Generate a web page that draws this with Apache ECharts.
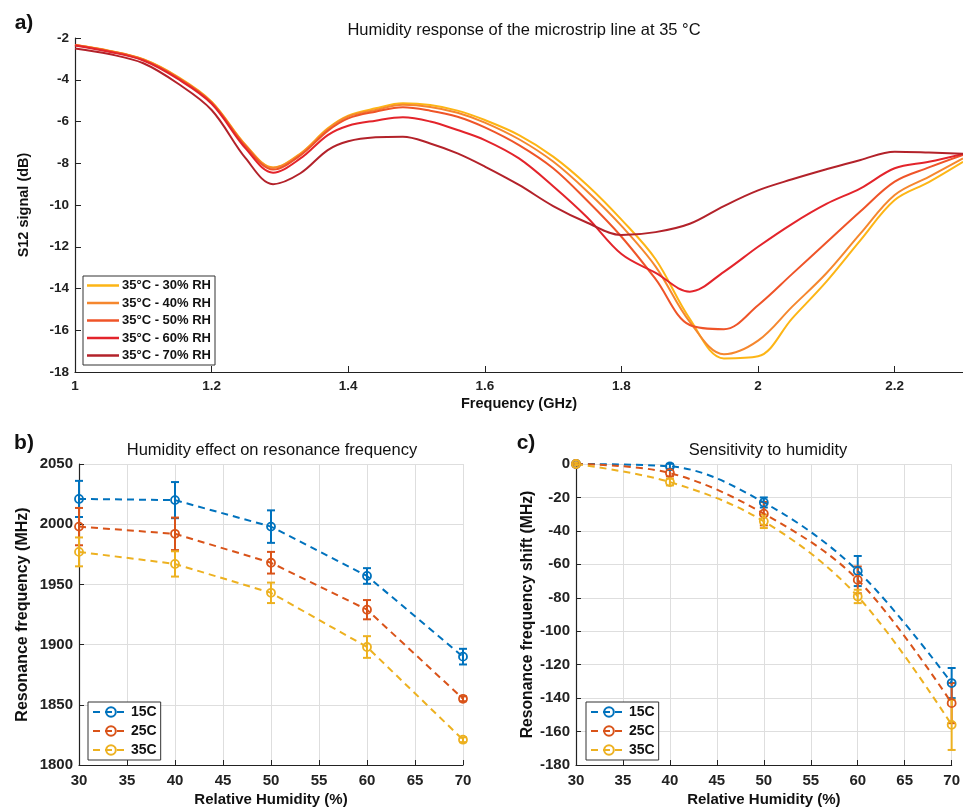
<!DOCTYPE html>
<html style="height: 100%">
<head>
<meta charset="utf-8">
<script type="text/javascript" src="https://cdn.jsdelivr.net/npm/echarts/dist/echarts.min.js"></script>
</head>
<body style="height: 100%; margin: 0; background: #fff">
<div id="main" style="width: 963px; height: 809px"></div>
<script type="text/javascript">
// ---- panel a: S12 spectra at 35 C ----
var freq = [1.00, 1.05, 1.10, 1.15, 1.20, 1.25, 1.29, 1.33, 1.37, 1.40, 1.44, 1.48, 1.52, 1.56, 1.60,
            1.65, 1.70, 1.75, 1.80, 1.85, 1.90, 1.95, 2.00, 2.05, 2.10, 2.15, 2.20, 2.25, 2.30];
var s12_30 = [-2.34, -2.61, -3.02, -3.85, -5.05, -7.13, -8.20, -7.53, -6.33, -5.72, -5.37, -5.13, -5.21, -5.48, -5.93,
              -6.65, -7.68, -9.05, -10.7, -12.6, -15.45, -17.35, -17.25, -15.43, -13.67, -11.68, -9.76, -8.9, -7.93];
var s12_40 = [-2.34, -2.62, -3.03, -3.87, -5.07, -7.15, -8.22, -7.56, -6.37, -5.76, -5.45, -5.20, -5.30, -5.58, -6.05,
              -6.85, -7.92, -9.35, -11.0, -12.95, -15.6, -17.15, -16.5, -14.87, -13.27, -11.36, -9.52, -8.65, -7.77];
var s12_50 = [-2.34, -2.63, -3.05, -3.90, -5.10, -7.20, -8.30, -7.62, -6.45, -5.85, -5.53, -5.32, -5.48, -5.77, -6.28,
              -7.13, -8.24, -9.80, -11.52, -13.55, -15.75, -15.95, -14.8, -13.3, -11.8, -10.3, -8.88, -8.2, -7.6];
var s12_60 = [-2.36, -2.66, -3.08, -3.95, -5.15, -7.30, -8.45, -7.77, -6.65, -6.20, -5.96, -5.80, -6.00, -6.41, -6.89,
              -7.77, -9.10, -10.6, -12.35, -13.25, -14.15, -13.2, -12.0, -10.9, -9.95, -9.2, -8.24, -7.93, -7.55];
var s12_70 = [-2.50, -2.77, -3.21, -4.17, -5.45, -7.77, -9.00, -8.48, -7.37, -6.95, -6.76, -6.73, -7.05, -7.53, -8.16,
              -9.04, -10.05, -10.85, -11.44, -11.3, -10.9, -10.05, -9.3, -8.77, -8.29, -7.84, -7.45, -7.49, -7.55];
var rhNames = ['35°C - 30% RH', '35°C - 40% RH', '35°C - 50% RH', '35°C - 60% RH', '35°C - 70% RH'];
var rhColors = ['#FDB515', '#F5872E', '#EF5428', '#E3242B', '#B3222A'];
var s12All = [s12_30, s12_40, s12_50, s12_60, s12_70];

// ---- panels b, c: resonance frequency vs humidity ----
var humidity = [30, 40, 50, 60, 70];
var tempNames = ['15C', '25C', '35C'];
var tempColors = ['#0072BD', '#D95319', '#EDB120'];
var res15 = [2021, 2020, 1998, 1957, 1890];
var res25 = [1998, 1992, 1968, 1929, 1855];
var res35 = [1977, 1967, 1943, 1898, 1821];
var resErr15 = [15, 15, 13.5, 6.5, 6.5];
var resErr25 = [15.5, 13.5, 9, 8, 2];
var resErr35 = [12, 10.5, 8.5, 9, 2];
var shift15 = [0, -1.4, -23, -64, -131];
var shift25 = [0, -5.4, -29.7, -69.3, -143];
var shift35 = [0, -10.8, -34.3, -79.2, -156];
var shiftErr15 = [0.8, 1.5, 3, 9, 9];
var shiftErr25 = [0.8, 2, 7, 8, 12];
var shiftErr35 = [0.8, 2, 4, 4, 15];

var FONT = 'Liberation Sans';
var chart = echarts.init(document.getElementById('main'));

function pairs(xs, ys) {
    return xs.map(function (x, i) { return [x, ys[i]]; });
}
function triples(xs, ys, es) {
    return xs.map(function (x, i) { return [x, ys[i], es[i]]; });
}

function errorBars(name, color, data, gi) {
    return {
        type: 'custom', name: name, xAxisIndex: gi, yAxisIndex: gi,
        data: data, encode: {x: 0, y: 1}, z: 2,
        renderItem: function (params, api) {
            var x = api.value(0), y = api.value(1), e = api.value(2);
            var a = api.coord([x, y + e]), b = api.coord([x, y - e]);
            var w = 4, st = {stroke: color, lineWidth: 2};
            return {type: 'group', children: [
                {type: 'line', shape: {x1: a[0], y1: a[1], x2: b[0], y2: b[1]}, style: st},
                {type: 'line', shape: {x1: a[0] - w, y1: a[1], x2: a[0] + w, y2: a[1]}, style: st},
                {type: 'line', shape: {x1: b[0] - w, y1: b[1], x2: b[0] + w, y2: b[1]}, style: st}
            ]};
        }
    };
}

function dashedLine(name, color, data, gi, smooth) {
    return {
        type: 'line', name: name, xAxisIndex: gi, yAxisIndex: gi,
        data: data, smooth: smooth, z: 3,
        symbol: 'circle', symbolSize: 8,
        lineStyle: {color: color, width: 2, type: [7, 5]},
        itemStyle: {color: 'rgba(255,255,255,0)', borderColor: color, borderWidth: 1.8}
    };
}

var tickFont = {color: '#222', fontWeight: 'bold', fontFamily: FONT};
var nameFont = {color: '#111', fontWeight: 'bold', fontFamily: FONT};
function plain(v) { return String(v); }

function bottomX(gi) {
    return {
        gridIndex: gi, type: 'value', min: 30, max: 70, interval: 5,
        name: 'Relative Humidity (%)', nameLocation: 'middle', nameGap: 27,
        nameTextStyle: Object.assign({fontSize: 15}, nameFont),
        axisLine: {onZero: false, lineStyle: {color: '#222', width: 1.2}},
        axisTick: {inside: true, length: 5, lineStyle: {color: '#222'}},
        axisLabel: Object.assign({fontSize: 15, margin: 8, formatter: plain}, tickFont),
        splitLine: {show: true, lineStyle: {color: '#dedede', width: 1}}
    };
}

var series = [];
s12All.forEach(function (arr, i) {
    series.push({
        type: 'line', name: rhNames[i], xAxisIndex: 0, yAxisIndex: 0,
        data: pairs(freq, arr), smooth: 0.35, symbol: 'none',
        lineStyle: {color: rhColors[i], width: 2}, itemStyle: {color: rhColors[i]}
    });
});
var resAll = [res15, res25, res35], resErrAll = [resErr15, resErr25, resErr35];
var shiftAll = [shift15, shift25, shift35], shiftErrAll = [shiftErr15, shiftErr25, shiftErr35];
tempNames.forEach(function (t, i) {
    series.push(errorBars(t + ' err b', tempColors[i], triples(humidity, resAll[i], resErrAll[i]), 1));
    series.push(dashedLine(t, tempColors[i], pairs(humidity, resAll[i]), 1, false));
    series.push(errorBars(t + ' err c', tempColors[i], triples(humidity, shiftAll[i], shiftErrAll[i]), 2));
    series.push(dashedLine(t, tempColors[i], pairs(humidity, shiftAll[i]), 2, 0.35));
});

function txt(x, y, s, size, weight) {
    return {type: 'text', x: x, y: y, style: {text: s, fontSize: size, fontWeight: weight,
        fontFamily: FONT, fill: '#111', align: 'center', verticalAlign: 'middle'}};
}

function tempLegend(left) {
    return {
        data: tempNames, orient: 'vertical', left: left, top: 702,
        padding: [3, 4, 3, 4], itemWidth: 36, itemHeight: 12, itemGap: 5,
        borderColor: '#333', borderWidth: 1, backgroundColor: '#fff',
        textStyle: {fontSize: 14, fontWeight: 'bold', fontFamily: FONT, color: '#111', padding: [0, 0, 0, -3]}
    };
}

var option = {
    animation: false,
    backgroundColor: '#fff',
    graphic: [
        txt(24, 23, 'a)', 21, 'bold'),
        txt(24, 443, 'b)', 21, 'bold'),
        txt(526, 443, 'c)', 21, 'bold'),
        txt(524, 30, 'Humidity response of the microstrip line at 35 °C', 16.5, 'normal'),
        txt(272, 450, 'Humidity effect on resonance frequency', 16.5, 'normal'),
        txt(768, 450, 'Sensitivity to humidity', 16.5, 'normal')
    ],
    legend: [
        {
            data: rhNames, orient: 'vertical', left: 83, top: 276, icon: 'rect',
            padding: [3, 4, 3, 4], itemWidth: 32, itemHeight: 2.5, itemGap: 4.5,
            borderColor: '#333', borderWidth: 1, backgroundColor: '#fff',
            textStyle: {fontSize: 13, fontWeight: 'bold', fontFamily: FONT, color: '#111', padding: [0, 0, 0, -2]}
        },
        tempLegend(88),
        tempLegend(586)
    ],
    grid: [
        {left: 75, top: 38, width: 888, height: 334},
        {left: 79, top: 464, width: 384, height: 301},
        {left: 576, top: 464, width: 386, height: 301}
    ],
    xAxis: [
        {
            gridIndex: 0, type: 'value', min: 1, max: 2.3, interval: 0.2,
            name: 'Frequency (GHz)', nameLocation: 'middle', nameGap: 24,
            nameTextStyle: Object.assign({fontSize: 14.5}, nameFont),
            axisLine: {onZero: false, lineStyle: {color: '#222', width: 1.2}},
            axisTick: {inside: true, length: 6, lineStyle: {color: '#222'}},
            axisLabel: Object.assign({fontSize: 13.5, margin: 7, showMaxLabel: false}, tickFont),
            splitLine: {show: false}
        },
        bottomX(1),
        bottomX(2)
    ],
    yAxis: [
        {
            gridIndex: 0, type: 'value', min: -18, max: -2, interval: 2,
            name: 'S12 signal (dB)', nameLocation: 'middle', nameGap: 44,
            nameTextStyle: Object.assign({fontSize: 14.5}, nameFont),
            axisLine: {onZero: false, lineStyle: {color: '#222', width: 1.2}},
            axisTick: {inside: true, length: 6, lineStyle: {color: '#222'}},
            axisLabel: Object.assign({fontSize: 13.5, margin: 6}, tickFont),
            splitLine: {show: false}
        },
        {
            gridIndex: 1, type: 'value', min: 1800, max: 2050, interval: 50,
            name: 'Resonance frequency (MHz)', nameLocation: 'middle', nameGap: 48,
            nameTextStyle: Object.assign({fontSize: 16}, nameFont),
            axisLine: {onZero: false, lineStyle: {color: '#222', width: 1.2}},
            axisTick: {inside: true, length: 5, lineStyle: {color: '#222'}},
            axisLabel: Object.assign({fontSize: 15, margin: 6, formatter: plain}, tickFont),
            splitLine: {show: true, lineStyle: {color: '#dedede', width: 1}}
        },
        {
            gridIndex: 2, type: 'value', min: -180, max: 0, interval: 20,
            name: 'Resonance frequency shift (MHz)', nameLocation: 'middle', nameGap: 38,
            nameTextStyle: Object.assign({fontSize: 15.7}, nameFont),
            axisLine: {onZero: false, lineStyle: {color: '#222', width: 1.2}},
            axisTick: {inside: true, length: 5, lineStyle: {color: '#222'}},
            axisLabel: Object.assign({fontSize: 15, margin: 6, formatter: plain}, tickFont),
            splitLine: {show: true, lineStyle: {color: '#dedede', width: 1}}
        }
    ],
    series: series
};
chart.setOption(option);
</script>
</body>
</html>
